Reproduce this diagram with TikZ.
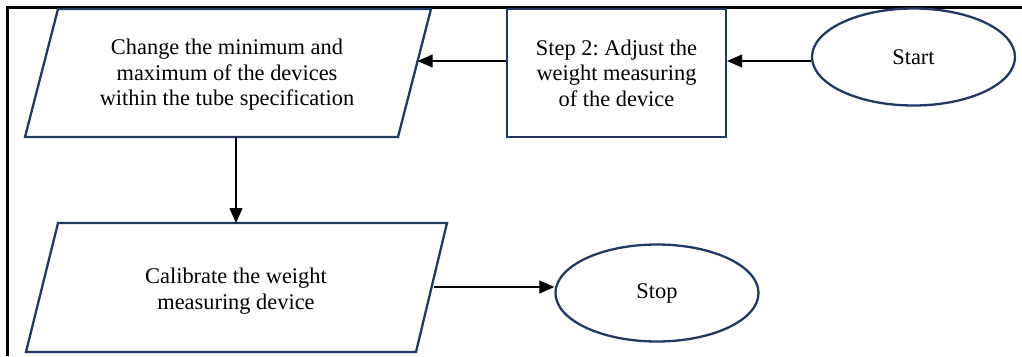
\documentclass[tikz,border=0pt]{standalone}
\usepackage{fontspec}
\setmainfont{Liberation Serif}
\usetikzlibrary{shapes.geometric,arrows.meta,calc}
\definecolor{navy}{RGB}{31,56,100}
\frenchspacing
\tikzset{
  box/.style={draw=navy, line width=2.3pt, fill=white},
  txt/.style={align=center, inner sep=0pt, font=\fontsize{22.4}{25.5}\selectfont},
  oval/.style={ellipse, draw=navy, line width=2.3pt, minimum width=203pt, minimum height=97pt, inner sep=0pt, font=\fontsize{22.4}{25.5}\selectfont},
  arr/.style={-{Triangle[length=15pt,width=13pt]}, line width=1.1pt, black},
  frameline/.style={line width=2.2pt, black}
}
\begin{document}
\begin{tikzpicture}[x=1pt,y=-1pt]
\useasboundingbox (0,0) rectangle (1022,356);
% frame
\draw[frameline] (7.5,356) -- (7.5,7.5) -- (1022,7.5);
% parallelogram 1
\draw[box] (58,9) -- (431,9) -- (398,137) -- (25,137) -- cycle;
\coordinate (p1edge) at (417.6,61);
\coordinate (p1bot) at (236,137);
\node[txt] (p1) at (227,75) {Change the minimum and\\maximum of the devices\\within the tube specification};
% parallelogram 2
\draw[box] (58,223) -- (447,223) -- (416,352) -- (26,352) -- cycle;
\coordinate (p2top) at (236,223);
\coordinate (p2edge) at (434,287);
\node[txt] (p2) at (236,291) {Calibrate the weight\\measuring device};
% rectangle
\node[box, txt, minimum width=219pt, minimum height=128pt] (rect) at (616.5,73) {Step 2: Adjust the\\weight measuring\\of the device};
% ellipses
\node[oval] (start) at (913.5,57) {Start};
\node[oval] (stop) at (657,293) {Stop};
% connectors
\draw[arr] ([yshift=-4pt]start.west) -- ([yshift=-4pt]start.west -| rect.east);
\draw[arr] (rect.west |- p1edge) -- (p1edge);
\draw[arr] (p1bot) -- (p2top);
\draw[arr] (p2edge) -- (p2edge -| stop.west);
\end{tikzpicture}
\end{document}
